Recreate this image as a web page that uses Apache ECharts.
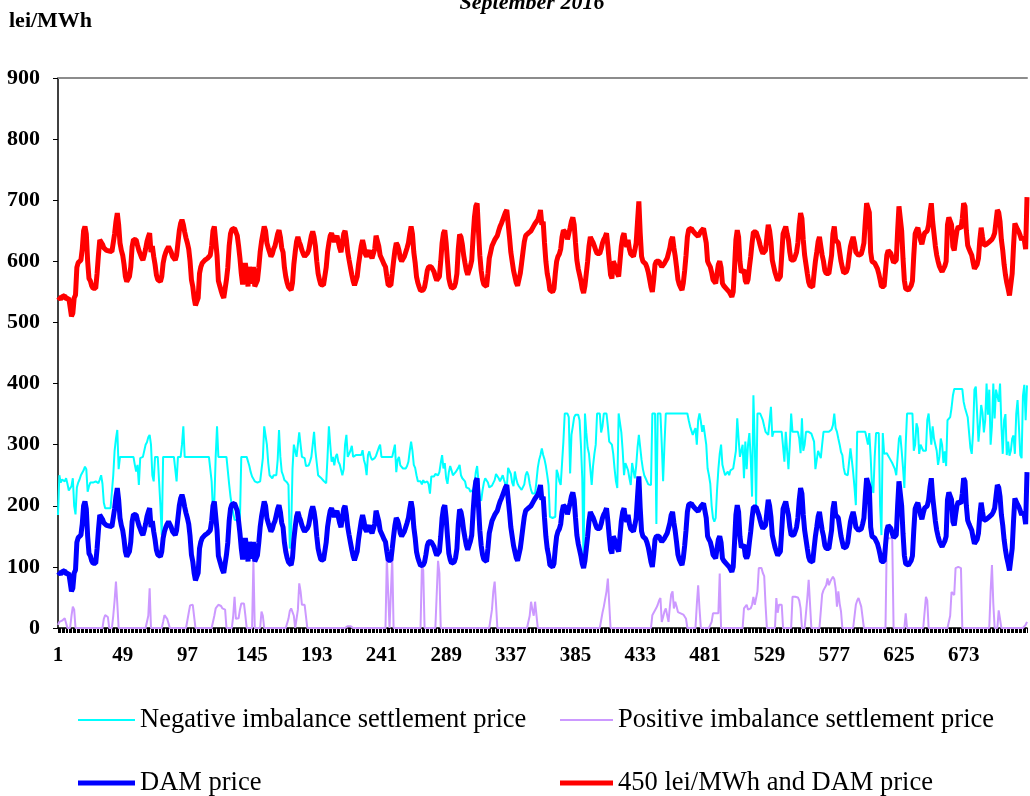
<!DOCTYPE html>
<html><head><meta charset="utf-8">
<script src="https://cdn.jsdelivr.net/npm/echarts@6/dist/echarts.min.js"></script>
<style>html,body{margin:0;padding:0;background:#fff}#c{width:1030px;height:796px}</style>
</head><body><div id="c"></div>
<script>
// hourly categories, September 2016 (30 days x 24 h)
const hours = [];
for (let i = 1; i <= 720; i++) hours.push(String(i));

const titleText = 'September 2016';
const unitText = 'lei/MWh';
const seriesNames = ['Negative imbalance settlement price', 'Positive imbalance settlement price', 'DAM price', '450 lei/MWh and DAM price'];
const RED_OFFSET = 450;

// DAM price, one line per day
const damPrice = [
92,90,88,92,95,94,88,86,90,75,60,65,90,95,140,148,150,152,170,200,207,195,150,122,
118,110,106,103,106,130,160,185,182,178,172,170,168,168,167,166,166,168,195,215,229,210,180,168,
160,145,125,117,118,125,141,174,186,188,185,176,168,162,156,152,160,170,182,190,196,165,175,158,
145,128,120,118,117,125,147,158,165,170,174,172,165,158,155,152,160,180,200,212,218,210,198,188,
180,170,150,120,109,90,78,76,90,130,141,147,150,152,153,155,158,160,175,200,207,205,160,118,
110,102,95,90,92,120,140,175,195,202,205,204,204,192,175,155,130,112,130,147,130,109,141,120,
114,141,109,112,119,140,165,182,195,207,200,180,172,165,158,162,170,175,185,195,201,190,172,165,
140,125,115,108,105,103,115,145,165,182,190,182,176,168,162,158,160,163,168,180,192,199,190,175,
150,130,120,112,111,111,111,140,165,180,192,196,188,182,185,192,190,172,165,180,195,200,185,165,
152,140,128,118,111,111,125,145,160,175,185,175,162,158,163,168,160,155,152,170,192,190,175,160,
155,150,145,141,125,111,110,111,130,150,168,180,176,168,155,150,154,158,165,172,180,195,207,195,
165,148,125,115,108,102,100,103,108,120,135,141,141,141,138,133,125,119,121,125,150,180,196,201,
180,150,122,112,106,103,108,115,130,170,194,190,178,160,147,135,128,130,142,152,190,222,240,245,
200,160,135,120,112,109,109,130,155,165,175,180,185,188,192,200,207,212,218,224,230,234,212,190,
165,150,135,125,115,110,112,130,147,165,182,192,195,196,198,200,204,208,212,215,218,225,234,210,
215,180,150,130,119,103,100,100,105,130,150,158,162,170,190,201,198,196,186,185,205,216,222,210,
180,152,138,128,118,105,98,110,130,150,175,190,185,181,175,168,163,163,163,170,180,186,190,196,
175,150,128,122,150,145,138,130,125,150,175,190,196,180,174,185,170,162,160,158,168,180,215,248,
196,158,150,148,146,140,132,120,108,100,120,145,150,152,150,145,141,144,147,150,155,158,172,185,
190,172,158,140,120,112,107,103,115,135,160,190,202,203,204,200,197,195,193,191,195,199,201,204,
207,180,150,145,141,132,120,118,114,130,145,150,140,114,110,109,105,102,100,98,92,100,140,185,
201,190,150,132,134,136,118,114,120,140,158,180,198,200,198,196,185,176,168,163,165,168,190,210,
200,182,152,142,132,125,119,122,125,160,195,201,207,195,185,165,152,152,152,158,165,180,210,229,
220,185,160,145,130,116,110,107,108,130,150,165,182,190,175,160,150,135,130,130,130,145,160,195,
207,185,182,180,165,150,140,131,130,133,140,158,174,183,190,180,165,163,160,158,162,170,180,215,
245,246,230,165,150,147,147,147,138,130,120,109,108,109,135,160,168,166,163,155,148,150,152,200,
240,240,200,155,119,105,103,103,104,110,118,160,195,201,205,207,185,178,188,196,198,200,210,230,
245,215,195,175,160,150,142,137,133,132,142,150,210,222,220,210,174,168,185,200,207,205,204,220,
245,240,200,176,170,165,160,148,138,138,145,155,185,205,190,176,175,178,180,182,184,186,190,196,
215,234,230,215,185,168,145,128,115,105,94,92,130,175,212,207,202,198,192,185,190,185,170,255
];

// Negative imbalance settlement price
const negImbalance = [
185,250,238,243,245,240,245,236,225,226,232,245,200,186,230,238,243,250,250,258,264,260,223,232,
238,240,238,236,240,240,237,243,250,236,205,196,196,196,196,196,196,250,290,310,324,260,280,280,
280,280,280,280,280,280,280,280,280,267,256,267,234,278,280,280,280,300,304,312,316,300,250,240,
280,280,280,280,200,152,280,280,280,280,280,280,280,280,280,280,240,280,280,280,300,330,280,280,
280,280,280,280,280,280,280,280,280,280,280,280,280,280,280,280,280,280,240,190,207,280,330,280,
280,280,280,280,280,280,280,235,215,200,188,177,177,176,177,178,280,280,280,280,280,280,265,255,
248,244,240,240,238,240,240,242,278,330,330,300,270,250,247,245,250,253,250,275,324,280,256,250,
242,240,238,234,130,160,260,300,290,280,280,320,300,280,280,278,265,264,266,272,280,300,321,290,
270,250,248,246,244,241,240,237,280,330,300,272,280,266,280,285,272,268,265,250,260,300,316,280,
280,290,298,280,283,283,283,283,285,283,291,275,267,250,283,289,280,275,272,278,282,285,295,300,
280,280,280,280,280,280,280,280,280,290,300,255,275,280,266,263,261,262,261,265,272,290,305,290,
267,262,250,240,238,240,235,242,238,241,240,235,220,248,250,248,252,250,250,255,270,283,261,270,
245,236,255,265,258,250,252,255,256,262,267,250,245,242,240,230,232,228,223,225,226,235,255,265,
240,212,208,225,238,245,245,238,230,230,233,234,242,252,252,245,240,245,250,242,235,229,262,264,
252,238,232,256,244,236,232,229,226,223,235,250,256,250,236,226,220,220,220,240,262,275,283,294,
283,276,265,250,234,182,180,180,180,182,259,252,240,234,236,305,351,351,351,345,253,316,330,345,
349,349,349,340,300,245,100,351,320,295,285,260,234,265,285,300,351,351,351,320,330,351,351,351,
330,305,303,300,285,260,240,229,351,351,320,290,250,270,264,258,245,234,270,267,245,265,295,316,
316,275,260,250,245,240,235,234,234,351,351,351,170,351,351,351,300,240,300,351,351,351,351,351,
351,351,351,351,351,351,351,351,351,351,351,351,340,330,327,316,322,327,300,340,351,338,321,332,
330,300,261,250,236,200,180,174,180,225,260,285,300,267,258,250,252,256,250,258,261,261,264,290,
343,310,280,290,300,245,305,260,300,319,278,215,381,300,201,351,351,351,351,340,330,321,321,316,
313,362,313,321,321,321,321,321,321,321,321,272,321,318,260,300,351,321,321,321,321,321,310,286,
343,290,300,321,321,321,321,318,316,305,260,275,290,292,278,300,321,321,321,321,321,321,325,332,
351,327,321,310,300,288,283,262,252,250,250,250,294,275,255,230,201,321,321,321,321,321,321,321,
320,300,319,280,230,221,280,319,319,319,200,152,319,285,288,286,282,278,276,270,265,260,250,250,
310,315,290,262,229,300,351,351,351,351,351,290,300,335,327,285,300,295,290,290,290,340,351,351,
300,330,310,300,290,267,280,310,300,270,289,265,340,340,345,360,380,391,391,391,391,391,391,391,
370,360,360,345,320,295,285,321,390,395,350,305,332,365,352,320,340,400,349,390,300,330,400,343,
390,390,370,400,332,285,340,350,283,305,282,290,310,315,285,350,373,330,283,278,380,398,340,397
];

// Positive imbalance settlement price
const posImbalance = [
5,10,10,12,14,16,18,0,0,0,20,35,30,0,0,0,0,0,0,0,0,0,0,0,
0,0,0,0,0,0,0,0,0,0,15,21,21,18,0,0,0,20,45,76,40,0,0,0,
0,0,0,0,0,0,0,0,0,0,0,0,0,0,0,0,0,0,0,20,65,0,0,0,
0,0,0,0,0,0,10,21,18,15,12,0,0,0,0,0,0,0,0,0,0,0,0,0,
0,25,37,38,38,36,0,0,0,0,0,0,0,0,0,0,0,0,0,0,20,32,35,38,
38,36,32,32,30,0,0,0,0,0,20,51,15,12,16,30,40,42,40,21,0,0,0,0,
0,110,0,0,0,0,0,27,20,0,0,0,0,0,0,0,0,0,0,0,0,0,0,0,
0,0,0,15,28,32,30,20,0,0,30,73,60,38,38,38,38,0,0,0,0,0,0,0,
0,0,0,0,0,0,0,0,0,0,0,0,0,0,0,0,0,0,0,0,0,0,0,3,
5,3,0,0,0,0,0,0,0,0,0,0,0,0,0,0,0,0,0,0,0,0,0,0,
0,0,0,0,115,115,0,0,115,0,0,0,0,0,0,0,0,0,0,0,0,0,0,0,
0,0,0,0,0,0,100,95,0,0,0,0,0,0,0,0,0,0,110,90,0,0,0,0,
0,0,0,0,0,0,0,0,0,0,0,0,0,0,0,0,0,0,0,0,0,0,0,0,
0,0,0,0,0,0,0,0,0,0,30,60,76,40,0,0,0,0,0,0,0,0,0,0,
0,0,0,0,0,0,0,0,0,0,0,0,0,0,20,43,30,20,43,40,0,0,0,0,
0,0,0,0,0,0,0,0,0,0,0,0,0,0,0,0,0,0,0,0,0,0,0,0,
0,0,0,0,0,0,0,0,0,0,0,0,0,0,0,0,0,0,0,0,25,35,38,60,
81,40,0,0,0,0,0,0,0,0,0,0,0,0,0,0,0,0,0,0,0,0,0,0,
0,0,0,0,0,0,0,0,0,21,25,27,33,38,45,49,10,18,27,32,30,10,35,55,
60,32,43,35,26,24,24,24,22,21,15,0,0,0,0,0,0,0,38,70,32,0,0,0,
0,0,0,0,0,10,24,24,24,24,24,89,0,0,0,0,0,0,0,0,0,0,0,0,
0,0,0,0,0,32,35,38,30,28,32,38,51,38,40,60,98,98,98,90,85,38,0,0,
0,0,0,0,0,49,25,38,38,38,0,0,0,0,0,0,0,51,51,51,51,50,45,32,
0,0,0,0,49,79,79,0,0,0,0,0,0,0,0,55,62,62,70,81,70,76,80,84,
80,65,35,60,40,27,0,0,0,0,0,0,0,0,0,0,38,45,49,49,35,32,0,0,
0,0,0,0,0,0,0,0,0,0,0,0,0,0,0,147,147,147,147,147,0,0,0,0,
0,0,0,0,0,24,0,0,0,0,0,0,0,0,0,0,0,0,0,0,51,45,0,0,
0,0,0,0,0,0,0,0,0,0,0,0,0,0,20,59,59,54,98,98,100,100,98,0,
0,0,0,0,0,0,0,0,0,0,0,0,0,0,0,0,0,0,0,0,60,103,40,0,
0,0,29,29,0,0,0,0,0,0,0,0,0,0,0,0,0,0,0,0,0,0,5,10
];

const redLine = damPrice.map(v => v + RED_OFFSET);

const SERIF = '"Liberation Serif", "Times New Roman", serif';
const COLORS = ['#00FFFF', '#CC99FF', '#0000FF', '#FF0000'];
const WIDTHS = [2, 2, 5, 5];
const chart = echarts.init(document.getElementById('c'), null, {renderer: 'canvas'});
const legendText = {fontFamily: SERIF, fontSize: 26.5, color: '#000', lineHeight: 30};

function makeLegend(idx, left, top, w) {
  return {
    left: left, top: top, orient: 'horizontal', padding: 0, itemWidth: w, itemHeight: WIDTHS[idx],
    selectedMode: false, icon: 'rect', textStyle: legendText,
    data: [{name: seriesNames[idx], icon: 'rect', itemStyle: {color: COLORS[idx]}}]
  };
}

chart.setOption({
  animation: false,
  backgroundColor: '#fff',
  grid: {left: 58, right: 3, top: 78, bottom: 168, containLabel: false},
  graphic: [
    {type: 'text', x: 532, y: -8, style: {text: titleText, align: 'center', verticalAlign: 'top', font: 'italic bold 22px ' + SERIF, fill: '#000'}},
    {type: 'text', x: 9, y: 10, style: {text: unitText, align: 'left', verticalAlign: 'top', font: 'bold 22px ' + SERIF, fill: '#000'}}
  ],
  legend: [
    makeLegend(0, 78, 705, 57),
    makeLegend(2, 78, 768, 57),
    makeLegend(1, 560, 705, 53),
    makeLegend(3, 560, 768, 53)
  ],
  xAxis: [
    {type: 'category', data: hours, boundaryGap: false, position: 'bottom',
     axisLine: {show: true, lineStyle: {color: '#000', width: 1.5}},
     axisTick: {show: true, interval: 0, length: 5, lineStyle: {color: '#000', width: 1}},
     axisLabel: {interval: (idx) => idx % 48 === 0, margin: 17, fontFamily: SERIF, fontWeight: 'bold', fontSize: 21, color: '#000'},
     splitLine: {show: false}},
    {type: 'category', data: hours, boundaryGap: false, position: 'top',
     axisLine: {show: true, lineStyle: {color: '#8c8c8c', width: 2}},
     axisTick: {show: false}, axisLabel: {show: false}, splitLine: {show: false}}
  ],
  yAxis: {
    type: 'value', min: 0, max: 900, interval: 100,
    axisLine: {show: true, lineStyle: {color: '#000', width: 1.5}},
    axisTick: {show: true, length: 5, lineStyle: {color: '#000'}},
    axisLabel: {margin: 18, fontFamily: SERIF, fontWeight: 'bold', fontSize: 22, color: '#000'},
    splitLine: {show: false}
  },
  series: [0, 1, 2, 3].map(k => ({
    name: seriesNames[k], type: 'line', symbol: 'none',
    data: [negImbalance, posImbalance, damPrice, redLine][k],
    lineStyle: {color: COLORS[k], width: WIDTHS[k]}, itemStyle: {color: COLORS[k]}
  }))
});
</script></body></html>
